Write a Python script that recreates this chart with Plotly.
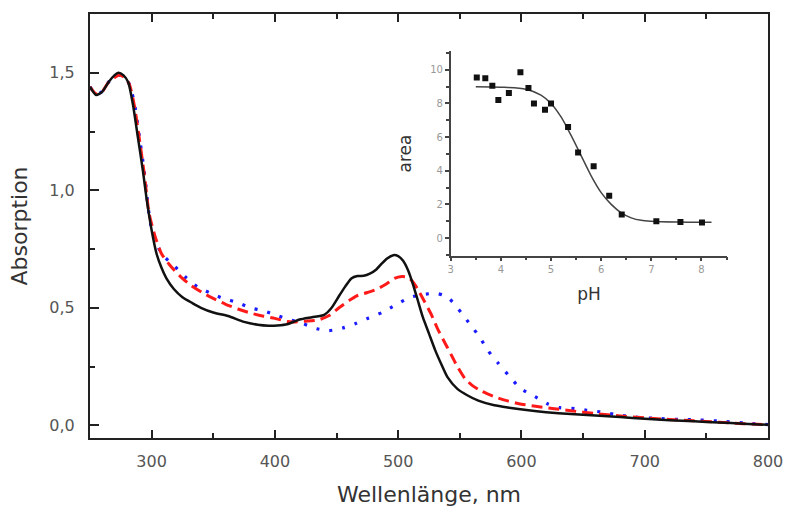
import plotly.graph_objects as go

# ---------------- main spectra data ----------------
wl_black = [250, 255, 260, 265, 270, 273, 277, 281, 285, 289, 293, 296, 300, 304, 308, 312, 318, 325,
            333, 340, 350, 362, 375, 386, 395, 402, 410, 420, 430, 440, 446, 452, 457, 462, 467, 472,
            477, 482, 487, 491, 496, 500, 504, 508, 512, 516, 520, 525, 530, 535, 540, 548, 556, 565,
            578, 590, 604, 620, 640, 660, 680, 700, 720, 740, 760, 780, 800]
abs_black = [1.44, 1.405, 1.42, 1.46, 1.49, 1.50, 1.49, 1.46, 1.36, 1.22, 1.08, 0.96, 0.83, 0.73, 0.67,
             0.625, 0.58, 0.545, 0.52, 0.50, 0.48, 0.465, 0.44, 0.428, 0.424, 0.425, 0.43, 0.45, 0.46,
             0.47, 0.50, 0.55, 0.59, 0.625, 0.635, 0.636, 0.645, 0.662, 0.69, 0.71, 0.724, 0.72, 0.70,
             0.66, 0.60, 0.53, 0.46, 0.39, 0.32, 0.26, 0.205, 0.155, 0.128, 0.105, 0.085, 0.075, 0.065,
             0.056, 0.048, 0.042, 0.035, 0.028, 0.022, 0.017, 0.012, 0.007, 0.002]

wl_red = [250, 255, 260, 265, 270, 274, 278, 282, 286, 290, 294, 298, 303, 308, 315, 323, 332, 341, 350,
          360, 370, 380, 390, 400, 410, 415, 425, 435, 444, 452, 460, 466, 475, 483, 490, 497, 503, 508,
          512, 516, 521, 527, 532, 537, 543, 548, 554, 560, 566, 572, 580, 588, 600, 610, 625, 640, 660,
          680, 700, 720, 740, 760, 780, 800]
abs_red = [1.44, 1.41, 1.42, 1.46, 1.48, 1.49, 1.48, 1.45, 1.36, 1.22, 1.07, 0.90, 0.80, 0.73, 0.68,
           0.635, 0.595, 0.565, 0.54, 0.515, 0.495, 0.478, 0.465, 0.455, 0.442, 0.44, 0.443, 0.448,
           0.467, 0.50, 0.53, 0.55, 0.565, 0.58, 0.60, 0.625, 0.633, 0.63, 0.61, 0.578, 0.53, 0.47,
           0.41, 0.36, 0.30, 0.25, 0.20, 0.17, 0.15, 0.135, 0.118, 0.105, 0.09, 0.082, 0.072, 0.062,
           0.05, 0.04, 0.032, 0.025, 0.019, 0.013, 0.007, 0.002]

wl_blue = [250, 255, 260, 265, 270, 274, 278, 282, 286, 290, 294, 299, 303, 308, 318, 327, 337, 347, 358,
           370, 380, 391, 402, 412, 423, 434, 444, 455, 466, 476, 487, 498, 509, 520, 531, 536, 542, 551,
           559, 566, 573, 581, 590, 599, 611, 621, 631, 643, 653, 664, 675, 685, 696, 707, 728, 739, 760,
           780, 800]
abs_blue = [1.44, 1.41, 1.42, 1.46, 1.48, 1.49, 1.48, 1.45, 1.37, 1.23, 1.08, 0.86, 0.79, 0.73, 0.68,
            0.633, 0.59, 0.564, 0.54, 0.522, 0.50, 0.487, 0.467, 0.45, 0.432, 0.411, 0.403, 0.414,
            0.434, 0.457, 0.48, 0.512, 0.543, 0.557, 0.561, 0.555, 0.536, 0.48, 0.425, 0.376, 0.317,
            0.265, 0.21, 0.158, 0.122, 0.092, 0.075, 0.071, 0.064, 0.057, 0.047, 0.039, 0.033, 0.03,
            0.025, 0.024, 0.018, 0.01, 0.003]

x_ticks = [300, 400, 500, 600, 700, 800]
y_ticks = [0.0, 0.5, 1.0, 1.5]

# ---------------- inset data ----------------
ph_points = [3.52, 3.69, 3.83, 3.95, 4.16, 4.39, 4.55, 4.66, 4.88, 5.0, 5.34, 5.54, 5.85, 6.16, 6.41,
             7.1, 7.58, 8.01]
area_points = [9.55, 9.5, 9.05, 8.2, 8.62, 9.86, 8.92, 8.0, 7.62, 8.0, 6.6, 5.08, 4.26, 2.52, 1.4,
               0.99, 0.95, 0.92]
fit_ph = [3.5, 4.0, 4.5, 4.8, 5.0, 5.2, 5.4, 5.6, 5.8, 6.0, 6.2, 6.4, 6.6, 6.8, 7.0, 7.5, 8.0, 8.2]
fit_area = [9.0, 8.97, 8.85, 8.5, 8.0, 7.2, 6.1, 4.9, 3.7, 2.7, 2.0, 1.5, 1.2, 1.05, 1.0, 0.95, 0.93, 0.93]
inset_x_ticks = [3, 4, 5, 6, 7, 8]
inset_y_ticks = [0, 2, 4, 6, 8, 10]

FONT = "DejaVu Sans"

fig = go.Figure()

fig.add_trace(go.Scatter(x=wl_blue, y=abs_blue, mode="lines",
                         line=dict(color="#1a1aff", width=3.2, dash="3px,10px", shape="spline", smoothing=0.6),
                         showlegend=False))
fig.add_trace(go.Scatter(x=wl_red, y=abs_red, mode="lines",
                         line=dict(color="#ff1a1a", width=3, dash="11px,6px", shape="spline", smoothing=0.6),
                         showlegend=False))
fig.add_trace(go.Scatter(x=wl_black, y=abs_black, mode="lines",
                         line=dict(color="#111111", width=2.5, shape="spline", smoothing=0.6),
                         showlegend=False))

# inset
fig.add_trace(go.Scatter(x=fit_ph, y=fit_area, mode="lines", xaxis="x2", yaxis="y2",
                         line=dict(color="#444444", width=1.5, shape="spline", smoothing=0.8),
                         showlegend=False))
fig.add_trace(go.Scatter(x=ph_points, y=area_points, mode="markers", xaxis="x2", yaxis="y2",
                         marker=dict(symbol="square", size=6, color="#111111"),
                         showlegend=False))

fig.update_layout(
    width=795, height=515,
    margin=dict(l=90, r=17, t=12, b=70),
    paper_bgcolor="white", plot_bgcolor="white",
    separators=",.",
    font=dict(family=FONT, color="#333333"),
    xaxis=dict(
        range=[250, 800], tickvals=x_ticks, ticks="inside", ticklen=8, tickwidth=2, tickcolor="#222",
        showline=True, linecolor="#222", linewidth=2, mirror="ticks", showgrid=False, zeroline=False,
        tickfont=dict(size=16, color="#555555", family=FONT), ticklabelstandoff=8,
        minor=dict(dtick=50, tick0=250, ticks="inside", ticklen=5, tickwidth=2, tickcolor="#222"),
        title=dict(text="Wellenlänge, nm", font=dict(size=22, color="#333333", family=FONT), standoff=16),
    ),
    yaxis=dict(
        range=[-0.054, 1.75], tickvals=y_ticks, tickformat=".1f", ticks="inside", ticklen=9, tickwidth=2,
        tickcolor="#222", showline=True, linecolor="#222", linewidth=2, mirror=True, showgrid=False,
        zeroline=False, tickfont=dict(size=16, color="#555555", family=FONT), ticklabelstandoff=10,
        minor=dict(dtick=0.25, tick0=0, ticks="inside", ticklen=5, tickwidth=2, tickcolor="#222"),
        title=dict(text="Absorption", font=dict(size=22, color="#333333", family=FONT), standoff=16),
    ),
    xaxis2=dict(
        domain=[0.532, 0.940], anchor="y2", range=[3, 8.515], tickvals=inset_x_ticks,
        ticks="outside", ticklen=4, tickwidth=1.5, tickcolor="#444",
        showline=True, linecolor="#444", linewidth=1.5, showgrid=False, zeroline=False,
        tickfont=dict(size=10, color="#999999", family=FONT),
        minor=dict(dtick=0.5, tick0=3, ticks="outside", ticklen=3, tickwidth=1.5, tickcolor="#444"),
        title=dict(text="pH", font=dict(size=17, color="#333333", family=FONT), standoff=14),
    ),
    yaxis2=dict(
        domain=[0.43, 0.912], anchor="x2", range=[-1.05, 11.1], tickvals=inset_y_ticks,
        ticks="outside", ticklen=4, tickwidth=1.5, tickcolor="#444",
        showline=True, linecolor="#444", linewidth=1.5, showgrid=False, zeroline=False,
        tickfont=dict(size=10, color="#999999", family=FONT),
        minor=dict(dtick=1, tick0=0, ticks="outside", ticklen=3, tickwidth=1.5, tickcolor="#444"),
        title=dict(text="area", font=dict(size=17, color="#333333", family=FONT), standoff=14),
    ),
)

fig.write_html("out.html")
